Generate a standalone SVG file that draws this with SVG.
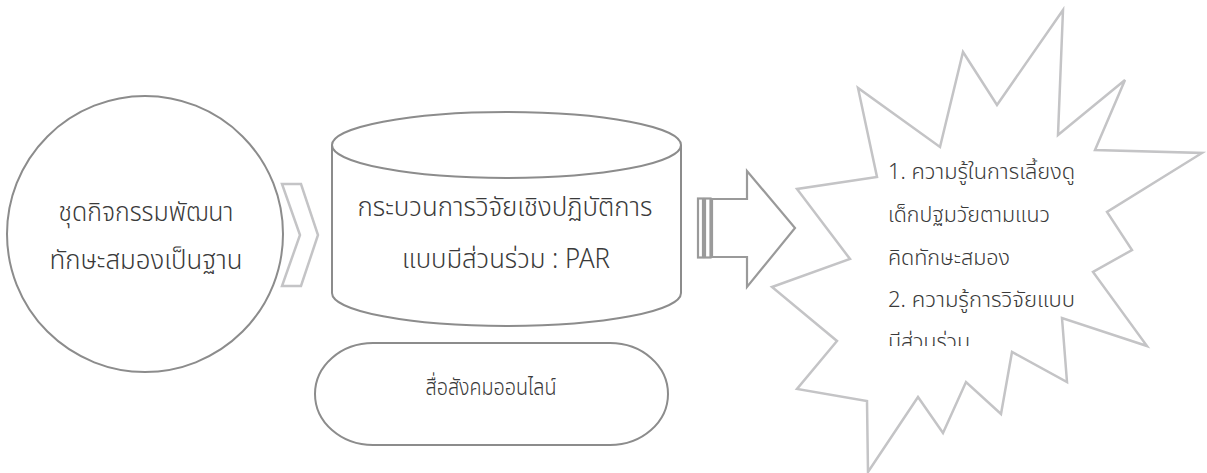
<svg xmlns="http://www.w3.org/2000/svg" width="1207" height="473" viewBox="0 0 1207 473">
<style>
  .shape { fill: #ffffff; stroke: #8c8c8c; stroke-width: 2; }
  .light { fill: #ffffff; stroke: #c4c4c6; stroke-width: 2.5; stroke-linejoin: miter; }
  .arrow { fill: #ffffff; stroke: #9a9a9a; stroke-width: 2.2; }
  .t { font-family: "Noto Sans Thai", "Leelawadee UI", Tahoma, "Noto Sans", "DejaVu Sans", sans-serif; fill: #3a3a3a; font-weight: 300; }
  .c { text-anchor: middle; font-size: 27px; }
  .m { text-anchor: middle; font-size: 23px; }
  .s { font-size: 21px; }
</style>
<defs>
  <clipPath id="starclip"><rect x="870" y="150" width="250" height="196"/></clipPath>
</defs>

<g id="connectors">
  <polygon id="chevron" class="light" points="282,184 301,184 318,235 301,286 282,286 300,235"/>
  <g id="block-arrow">
    <rect class="arrow" x="698" y="198.5" width="5" height="59"/>
    <rect class="arrow" x="705" y="198.5" width="5.5" height="59"/>
    <polygon class="arrow" points="712,199 747,199 747,171 795,228 747,287 747,257 712,257"/>
  </g>
</g>

<g id="node-circle">
  <circle class="shape" cx="145" cy="234" r="138"/>
  <text class="t c" x="146" y="221" textLength="175" lengthAdjust="spacingAndGlyphs">ชุดกิจกรรมพัฒนา</text>
  <text class="t c" x="146" y="269" textLength="193" lengthAdjust="spacingAndGlyphs">ทักษะสมองเป็นฐาน</text>
</g>

<g id="node-cylinder">
  <path class="shape" d="M332,145 A174.5,33 0 0 1 681,145 L681,293 A174.5,33 0 0 1 332,293 Z"/>
  <path class="shape" fill="none" d="M332,145 A174.5,33 0 0 0 681,145"/>
  <text class="t c" x="505" y="216" textLength="295" lengthAdjust="spacingAndGlyphs">กระบวนการวิจัยเชิงปฏิบัติการ</text>
  <text class="t c" x="506" y="268" textLength="208" lengthAdjust="spacingAndGlyphs">แบบมีส่วนร่วม : PAR</text>
</g>

<g id="node-online">
  <path class="shape" d="M373,343 L610,343 A58,51 0 0 1 610,445 L373,445 A58,51 0 0 1 373,343 Z"/>
  <text class="t m" x="491" y="395" textLength="131" lengthAdjust="spacingAndGlyphs">สื่อสังคมออนไลน์</text>
</g>

<g id="node-star">
  <polygon class="light" points="1063,10 1058,135 1125,80 1095,150 1202,153 1107,212 1132,250 1093,272 1147,346 1062,318 1067,382 1012,352 1001,414 966,382 943,433 918,397 868,472 867,401 797,389 837,341 772,287 850,259 797,189 877,177 858,88 940,147 963,52 997,105"/>
  <g clip-path="url(#starclip)">
    <text class="t s" x="888" y="179" textLength="187" lengthAdjust="spacingAndGlyphs">1. ความรู้ในการเลี้ยงดู</text>
    <text class="t s" x="888" y="222" textLength="162" lengthAdjust="spacingAndGlyphs">เด็กปฐมวัยตามแนว</text>
    <text class="t s" x="888" y="265" textLength="122" lengthAdjust="spacingAndGlyphs">คิดทักษะสมอง</text>
    <text class="t s" x="888" y="307" textLength="187" lengthAdjust="spacingAndGlyphs">2. ความรู้การวิจัยแบบ</text>
    <text class="t s" x="888" y="349" textLength="82" lengthAdjust="spacingAndGlyphs">มีส่วนร่วม</text>
  </g>
</g>
</svg>
